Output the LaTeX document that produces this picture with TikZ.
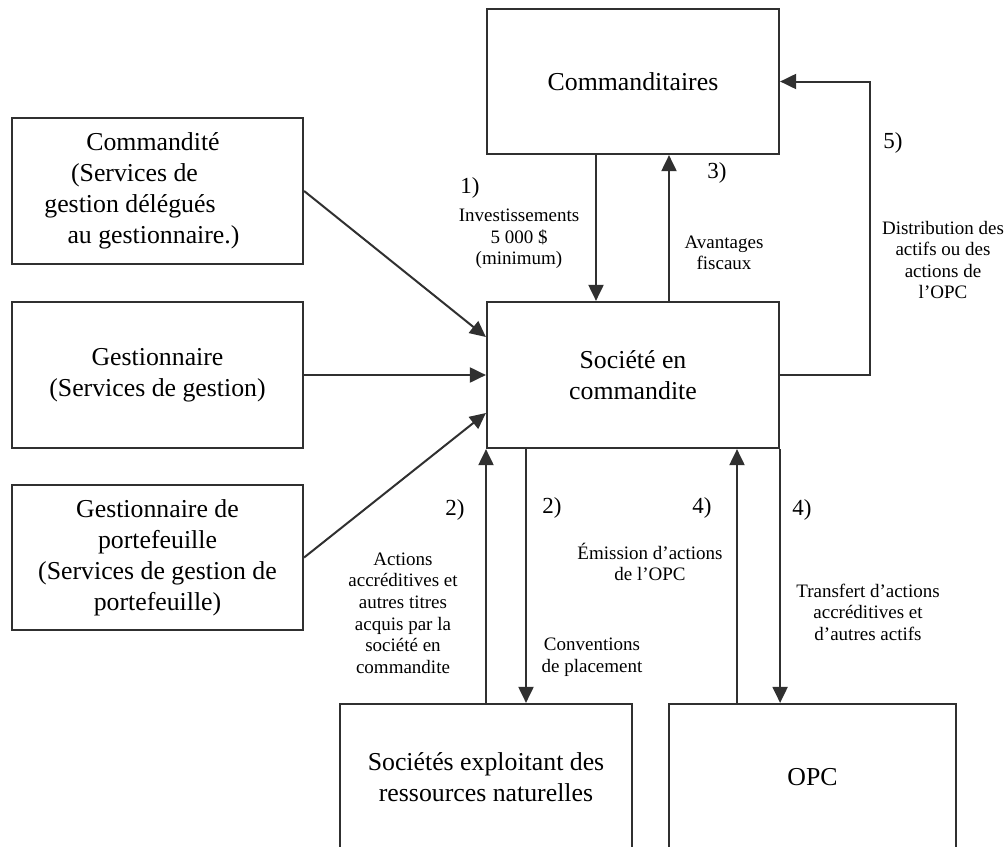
\documentclass[tikz,border=0pt]{standalone}
\usepackage{fontspec}
\setmainfont{Liberation Serif}
\usepackage{tikz}
\usetikzlibrary{arrows.meta,positioning,calc}
\definecolor{ink}{HTML}{303030}

\begin{document}
\begin{tikzpicture}[x=0.5pt,y=-0.5pt,
    box/.style={draw=ink,line width=1.1pt,inner sep=0pt,align=center,
      minimum width=146pt,minimum height=73pt,
      font=\fontsize{12.9}{15.5}\selectfont},
    lbl/.style={align=center,inner sep=0pt,font=\fontsize{9.5}{10.8}\selectfont},
    num/.style={inner sep=0pt,font=\fontsize{11.5}{13}\selectfont},
    arr/.style={draw=ink,line width=1pt,-{Triangle[length=8pt,width=7.5pt]}}]
      \useasboundingbox (0,0) rectangle (1006,846);
      \clip (0,0) rectangle (1006,846);

      % boxes
      \path
      (633,81.5) node[box,minimum height=72.5pt](comm) {Commanditaires}
      (157.5,191) node[box,minimum width=145.5pt](cmdt) {Commandité\hspace{4.5pt}\mbox{}\\(Services de\hspace{23pt}\mbox{}\\gestion délégués\hspace{27.5pt}\mbox{}\\au gestionnaire.)\hspace{4pt}\mbox{}}
      (157.5,375) node[box,minimum width=145.5pt](gest) {Gestionnaire\\(Services de gestion)}
      (157.5,557.5) node[box,minimum width=145.5pt,minimum height=72.5pt](portf) {Gestionnaire de\\portefeuille\\(Services de gestion de\\portefeuille)}
      (633,375) node[box](soc) {Société en\\commandite}
      (486,777) node[box](expl) {Sociétés exploitant des\\ressources naturelles}
      (812.5,777) node[box,minimum width=143.5pt](opc) {OPC}
      ;

      % labels
      \path
      (470,188) node[num](n1) {1)}
      (519,239) node[lbl](invest) {Investissements\\5 000 \$\\(minimum)}
      (717,173) node[num](n3) {3)}
      (724,253) node[lbl](avant) {Avantages\\fiscaux}
      (893,143) node[num](n5) {5)}
      (943,260) node[lbl](distr) {Distribution des\\actifs ou des\\actions de\\l’OPC}
      (455,510) node[num](n2a) {2)}
      (552,508) node[num](n2b) {2)}
      (702,508) node[num](n4a) {4)}
      (802,510) node[num](n4b) {4)}
      (403,613) node[lbl](acq) {Actions\\accréditives et\\autres titres\\acquis par la\\société en\\commandite}
      (592,657) node[lbl](conv) {Conventions\\de placement}
      (650,562) node[lbl](emis) {Émission d’actions\\de l’OPC}
      (868,612) node[lbl](transf) {Transfert d’actions\\accréditives et\\d’autres actifs}
      ;

      \draw[arr] (cmdt.east) -- ([yshift=19pt]soc.west);
      \draw[arr] (gest.east) -- (soc.west);
      \draw[arr] (portf.east) -- ([yshift=-19pt]soc.west);
      \draw[arr] ([xshift=-18.5pt]comm.south) -- ([xshift=-18.5pt]soc.north);
      \draw[arr] ([xshift=18pt]soc.north) -- ([xshift=18pt]comm.south);
      \draw[arr] (soc.east) -- ++(45pt,0) |- (comm.east);
      \draw[arr] (expl.north) -- (expl.north |- soc.south);
      \draw[arr] ([xshift=-53.5pt]soc.south) -- ([xshift=-53.5pt]soc.south |- expl.north);
      \draw[arr] ([xshift=52pt]soc.south |- opc.north) -- ([xshift=52pt]soc.south);
      \draw[arr] (soc.south east) -- (soc.south east |- opc.north);
\end{tikzpicture}
\end{document}
